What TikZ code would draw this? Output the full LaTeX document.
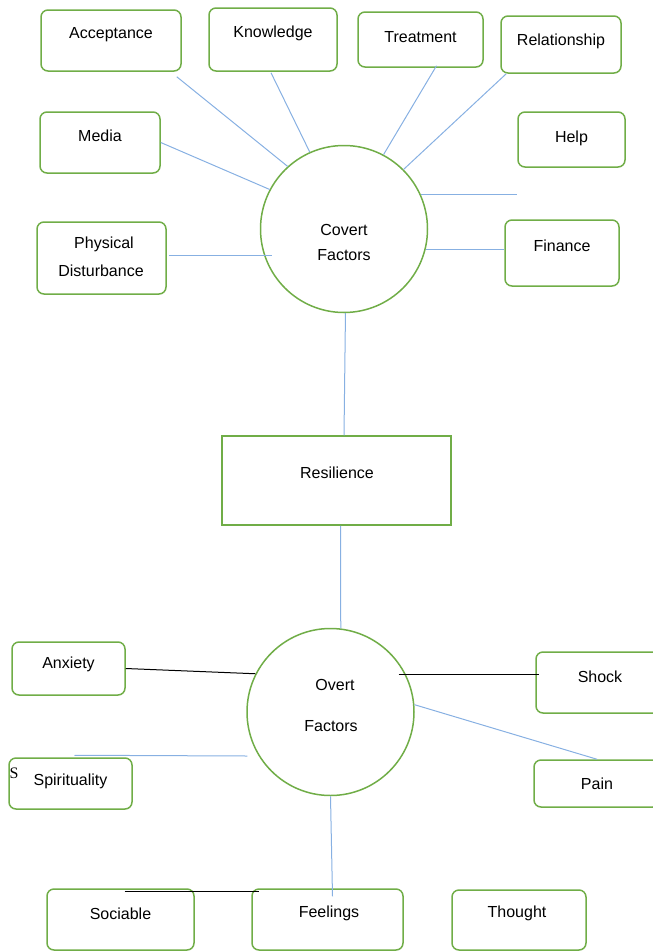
\documentclass[tikz,border=0pt]{standalone}
\usepackage{fontspec}
\setmainfont{Liberation Sans}
\newfontfamily\strayfont{Liberation Serif}
\usetikzlibrary{positioning}
\definecolor{boxgreen}{RGB}{112,173,71}
\definecolor{linkblue}{RGB}{135,176,226}
\tikzset{
  factor/.style={draw=boxgreen, line width=1.5pt, rounded corners=7pt, inner sep=0pt},
  core/.style={draw=boxgreen, line width=1.5pt, circle, inner sep=0pt, minimum size=167},
  lbl/.style={font=\fontsize{16}{18}\selectfont, text=black, inner sep=0pt, anchor=base},
  bline/.style={draw=linkblue, line width=1pt},
  kline/.style={draw=black, line width=1pt}
}
\begin{document}
\begin{tikzpicture}[x=1pt,y=-1pt]
\useasboundingbox (0,0) rectangle (653,951);

% covert factors
\node[core] (cov) at (344,229) {};
\node[lbl] (cov-a) at (344,235) {Covert};
\node[lbl] (cov-b) at (344,260) {Factors};

\node[factor, minimum width=140, minimum height=61] (acc) at (111,40.5) {};
\node[factor, minimum width=128, minimum height=63] (kno) at (273,39.5) {};
\node[factor, minimum width=125, minimum height=55] (tre) at (420.5,39.5) {};
\node[factor, minimum width=120, minimum height=57] (rel) at (561,44.5) {};
\node[factor, minimum width=120, minimum height=61] (med) at (100,142.5) {};
\node[factor, minimum width=107, minimum height=55] (hlp) at (571.5,139.5) {};
\node[factor, minimum width=129, minimum height=72] (phy) at (101.5,258) {};
\node[factor, minimum width=114, minimum height=66] (fin) at (562,253) {};

\node[lbl] (acc-t) at ([shift={(0,29)}]acc.north) {Acceptance};
\node[lbl] (kno-t) at ([shift={(0,30)}]kno.north) {Knowledge};
\node[lbl] (tre-t) at ([shift={(0,31)}]tre.north) {Treatment};
\node[lbl] (rel-t) at ([shift={(0,30)}]rel.north) {Relationship};
\node[lbl] (med-t) at ([shift={(0,30)}]med.north) {Media};
\node[lbl] (hlp-t) at ([shift={(0,31)}]hlp.north) {Help};
\node[lbl] (phy-a) at ([shift={(2.5,27)}]phy.north) {Physical};
\node[lbl] (phy-b) at ([shift={(-0.5,55)}]phy.north) {Disturbance};
\node[lbl] (fin-t) at ([shift={(0,32)}]fin.north) {Finance};

\draw[bline] ([shift={(-5,5)}]acc.south east) -- (cov.132);
\draw[bline] ([shift={(-2,1)}]kno.south) -- (cov.114);
\draw[bline] ([shift={(16,-2)}]tre.south) -- (cov.62);
\draw[bline] ([shift={(6,0)}]rel.south west) -- (cov.45);
\draw[bline] (med.east) -- (cov.152);
\draw[bline] (cov.24) -- (cov.24 -| hlp.west);
\draw[bline] ([shift={(2,-3)}]phy.east) -- ([shift={(-72,26)}]cov.center);
\draw[bline] (cov.-14) -- (cov.-14 -| fin.west);

% resilience
\node[draw=boxgreen, line width=1.5pt, minimum width=229, minimum height=89, inner sep=0pt] (res) at (336.5,480.5) {};
\node[lbl] (res-t) at (337,478) {Resilience};
\draw[bline] (cov.-89) -- ([shift={(7.5,0)}]res.north);

% overt factors
\node[core] (ov) at (330.5,712) {};
\node[lbl] (ov-a) at (335,690) {Overt};
\node[lbl] (ov-b) at (331,731.5) {Factors};
\draw[bline] ([shift={(4,0)}]res.south) -- (ov.83);

\node[factor, minimum width=113, minimum height=53] (anx) at (68.5,668.5) {};
\node[factor, minimum width=128, minimum height=61] (sho) at (600,682.5) {};
\node[factor, minimum width=123, minimum height=51] (spi) at (70.5,783.5) {};
\node[factor, minimum width=126, minimum height=47] (pai) at (597,783.5) {};
\node[factor, minimum width=147, minimum height=61] (soc) at (120.5,919.5) {};
\node[factor, minimum width=151, minimum height=61] (fee) at (327.5,919.5) {};
\node[factor, minimum width=134, minimum height=60] (tho) at (519,920) {};

\node[lbl] (anx-t) at ([shift={(0,27)}]anx.north) {Anxiety};
\node[lbl] (sho-t) at ([shift={(0,31)}]sho.north) {Shock};
\node[lbl] (spi-t) at ([shift={(0,28)}]spi.north) {Spirituality};
\node[lbl] (pai-t) at ([shift={(0,30)}]pai.north) {Pain};
\node[lbl] (soc-t) at ([shift={(0,31)}]soc.north) {Sociable};
\node[lbl] (fee-t) at ([shift={(1.5,29)}]fee.north) {Feelings};
\node[lbl] (tho-t) at ([shift={(-2,28)}]tho.north) {Thought};
\node[font=\strayfont\fontsize{16}{18}\selectfont, inner sep=0pt, anchor=base] (stray) at (14,778) {S};

\coordinate (spi-end) at ([shift={(1,44)}]ov.west);
\draw[kline] (anx.east) -- (ov.153);
\draw[bline] ([shift={(4,-2)}]spi.north) -- (spi-end);
\draw[kline] ([shift={(68,-38)}]ov.center) -- ([shift={(4,-8.5)}]sho.west);
\draw[bline] (ov.5) -- (pai.north);
\draw[bline] (ov.south) -- ([shift={(5,8)}]fee.north);
\draw[kline] ([shift={(4,3)}]soc.north) -- ([shift={(8,3)}]fee.north west);
\end{tikzpicture}
\end{document}
